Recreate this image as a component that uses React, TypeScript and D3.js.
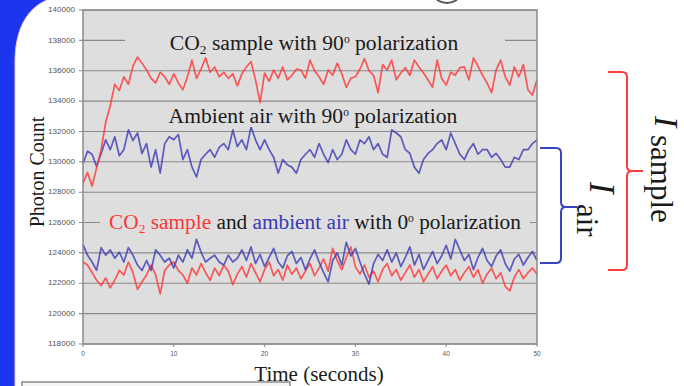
import React from "react";
import * as d3 from "d3";

// ---- data ----
const SAMPLE_STEP = 0.5; // seconds between readings
const xTicks = [0, 10, 20, 30, 40, 50];
const yTicks = [140000, 138000, 136000, 134000, 132000, 130000, 128000, 126000, 124000, 122000, 120000, 118000];

const co2Perp = [
  128600, 129300, 128400, 129600, 130800, 132600, 133700, 135100, 134700, 135600,
  135100, 136300, 136900, 136500, 136050, 135500, 135200, 135900, 135600, 135100,
  135800, 135200, 134750, 135600, 136700, 135500, 136100, 136850, 135900, 136250,
  135600, 135900, 135500, 135800, 135000, 135800, 136250, 136600, 135400, 133900,
  135850, 135300, 136050, 135500, 136250, 135400, 135700, 136100, 136050, 135500,
  136700, 136000, 135600, 135100, 136050, 135700, 136500, 135800, 134900, 135500,
  135600, 136100, 136800, 136000, 135700, 134550, 136400, 136050, 136700, 135400,
  135850, 136200, 135700, 136700, 136250, 135850, 135400, 134900, 136700, 135500,
  135050, 135900, 135700, 136200, 136250, 135400, 136850, 136300, 135700, 135200,
  134550, 136050, 136700, 135600, 135050, 136250, 135600, 136400, 134750, 134400,
  135400,
];

const airPerp = [
  129900, 130700, 130500, 129700, 130550, 131450, 130800, 131650, 130400, 130800,
  132100, 131400, 131900, 130550, 131200, 129650, 130800, 129250, 131200, 131650,
  131450, 131800, 130150, 130800, 129650, 129000, 130150, 130500, 130800, 130300,
  130950, 131200, 130800, 132100, 131000, 131450, 130800, 132300, 131450, 130800,
  131450, 130800, 130300, 129250, 130150, 129800, 129650, 129250, 130150, 130500,
  130800, 130300, 131200, 130500, 129950, 130800, 130150, 130500, 131450, 130800,
  130500, 131450, 131200, 131650, 130800, 131200, 130500, 130300, 132100, 131900,
  131650, 130800, 130550, 129650, 129250, 130150, 130550, 130800, 131200, 131450,
  130800, 131900, 131200, 130500, 130150, 130800, 131200, 130500, 130800, 130800,
  130300, 130550, 130150, 129650, 129650, 130300, 130150, 130800, 130800, 131200,
  131450,
];

const airPar = [
  124550, 123850, 123400, 122850, 124350, 123850, 124200, 123650, 124050, 123400,
  124350, 123850, 123200, 122850, 123500, 122850, 124200, 123850, 123400, 123650,
  123000, 123850, 123400, 124200, 123650, 124900, 124050, 123400, 123650, 123850,
  123400, 123200, 123850, 123400, 123650, 124200, 123500, 124400, 123300, 123900,
  123100, 123700, 124300, 123400, 123000, 123800, 124100, 123300, 123700, 122900,
  123600, 124200, 123400, 122700, 122100, 123500, 124000, 123200, 124700, 123800,
  124300, 123400, 122600, 121950, 123300, 123900, 123500, 124200, 123400, 124000,
  123100, 123700, 124400, 123200, 123900, 122900, 123500, 124100, 123300, 123800,
  124500, 123600, 124900, 124200, 123500, 123900, 122900, 123700, 124300, 123500,
  123100, 123800, 124200, 123300, 122800, 123600, 123900, 123200, 123700, 124100,
  123500,
];

const co2Par = [
  123400, 123200, 122700, 122200, 121850, 122350, 121700, 122200, 122850, 122550,
  123400, 122700, 121600, 122100, 122550, 123200, 122550, 121300, 122850, 123200,
  123400, 122850, 122550, 122000, 123000, 122550, 123300, 122700, 122200, 123000,
  122500, 123200, 122800, 121900, 122600, 123100, 122400, 123300, 122700, 122100,
  122900, 123400, 122500, 122900, 122200, 123200, 122600, 123000, 122300, 122800,
  123300, 122500, 123000, 123600, 122800, 124300, 123500, 122900, 123700, 124400,
  123100, 122600, 123200, 122400, 122800, 122100, 122900, 123300, 122500, 122900,
  122200, 122700, 123200, 122400, 122900, 122100, 122600, 123100, 122300, 122800,
  123200, 122500, 122900, 122200, 122700, 123100, 122400, 122900, 122000, 122600,
  123000, 122300, 122700, 121800, 121500, 122400, 122900, 122300, 122700, 123000,
  122600,
];

const RED = "#ff3535";
const BLUE = "#3a3ab4";
const PLOT_BG = "#dedede";
const SERIF = "'Liberation Serif', 'Times New Roman', serif";
const SANS = "'Liberation Sans', Arial, sans-serif";

export default function App() {
  const left = 83, right = 537, top = 10, bottom = 344;
  const x = d3.scaleLinear().domain([0, 50]).range([left, right]);
  const y = d3.scaleLinear().domain([118000, 140000]).range([bottom, top]);
  const line = d3
    .line<number>()
    .x((_, i) => x(i * SAMPLE_STEP))
    .y((d) => y(d));

  const series = [
    { data: co2Par, color: RED },
    { data: airPar, color: BLUE },
    { data: airPerp, color: BLUE },
    { data: co2Perp, color: RED },
  ];

  return (
    <svg
      width={684}
      height={386}
      style={{ position: "absolute", left: 0, top: 0, background: "#fff" }}
    >
      {/* slide frame on the left */}
      <path d="M0,0 H47 C28,8 15,28 15,62 V386 H0 Z" fill="#1c36f0" />
      <path d="M47,0 C28,8 15,28 15,62 V386" fill="none" stroke="#f3c9a0" strokeWidth={1} />
      <rect x={22} y={382} width={268} height={10} fill="#f4f4f4" stroke="#8a8a8a" strokeWidth={1.5} />
      <path d="M437,0 Q447,6 457,0" fill="none" stroke="#555" strokeWidth={2} />

      {/* plot area */}
      <rect x={left} y={top} width={right - left} height={bottom - top} fill={PLOT_BG} />
      {yTicks.map((t) => (
        <g key={t}>
          <line x1={left - 4} x2={right} y1={y(t)} y2={y(t)} stroke="#8a8a8a" strokeWidth={1.1} />
          <text
            x={left - 8}
            y={y(t) + 2.2}
            textAnchor="end"
            fontSize={6.5}
            textLength={27}
            lengthAdjust="spacingAndGlyphs"
            fontFamily={SANS}
            fill="#555"
          >
            {t}
          </text>
        </g>
      ))}
      {xTicks.map((t) => (
        <g key={t}>
          <line x1={x(t)} x2={x(t)} y1={bottom} y2={bottom + 3} stroke="#8a8a8a" />
          <text
            x={x(t)}
            y={bottom + 12}
            textAnchor="middle"
            fontSize={6.5}
            fontFamily={SANS}
            fill="#555"
          >
            {t}
          </text>
        </g>
      ))}

      {series.map((s, i) => (
        <path
          key={i}
          d={line(s.data) || ""}
          fill="none"
          stroke={s.color}
          strokeWidth={1.7}
          strokeOpacity={0.8}
          strokeLinejoin="round"
        />
      ))}
      <rect x={left} y={top} width={right - left} height={bottom - top} fill="none" stroke="#8a8a8a" strokeWidth={1.5} />

      {/* in-plot labels */}
      <rect x={125} y={33} width={380} height={20} fill={PLOT_BG} />
      <text x={314} y={50} textAnchor="middle" fontSize={21.6} fontFamily={SERIF} fill="#1a1a1a">
        CO<tspan fontSize={13.5} dy={4}>2</tspan>
        <tspan dy={-4}> sample with 90</tspan>
        <tspan fontSize={11.5} dy={-7}>o</tspan>
        <tspan dy={7}> polarization</tspan>
      </text>

      <rect x={158} y={106} width={310} height={21} fill={PLOT_BG} />
      <text x={313} y={123} textAnchor="middle" fontSize={21.6} fontFamily={SERIF} fill="#1a1a1a">
        Ambient air with 90<tspan fontSize={11.5} dy={-7}>o</tspan>
        <tspan dy={7}> polarization</tspan>
      </text>

      <rect x={100} y={212} width={430} height={22} fill={PLOT_BG} />
      <text x={315} y={229} textAnchor="middle" fontSize={21.3} fontFamily={SERIF} fill="#1a1a1a">
        <tspan fill={RED}>CO</tspan>
        <tspan fill={RED} fontSize={13.5} dy={4}>2</tspan>
        <tspan fill={RED} dy={-4}> sample</tspan>
        <tspan> and </tspan>
        <tspan fill={BLUE}>ambient air</tspan>
        <tspan> with 0</tspan>
        <tspan fontSize={11.5} dy={-7}>o</tspan>
        <tspan dy={7}> polarization</tspan>
      </text>

      {/* axis titles */}
      <text
        transform="translate(44,172) rotate(-90)"
        textAnchor="middle"
        fontSize={20}
        fontFamily={SERIF}
        fill="#1a1a1a"
      >
        Photon Count
      </text>
      <text x={319} y={381} textAnchor="middle" fontSize={21} fontFamily={SERIF} fill="#1a1a1a">
        Time (seconds)
      </text>

      {/* brackets */}
      <path
        d="M608,72 H622 Q627,72 627,77 V166 Q627,171 632,171 H643 M632,171 Q627,171 627,176 V265 Q627,270 622,270 H608"
        fill="none"
        stroke="#ff3b3b"
        strokeWidth={2}
      />
      <path
        d="M540,148 H556 Q561,148 561,153 V202 Q561,207 566,207 H577 M566,207 Q561,207 561,212 V258 Q561,263 556,263 H540"
        fill="none"
        stroke="#3a44c0"
        strokeWidth={2}
      />

      {/* bracket labels */}
      <text
        transform="translate(655,116) rotate(90)"
        fontSize={34}
        fontStyle="italic"
        fontFamily={SERIF}
        fill="#1a1a1a"
      >
        I
      </text>
      <text transform="translate(651,135) rotate(90)" fontSize={31} fontFamily={SERIF} fill="#1a1a1a">
        sample
      </text>
      <text
        transform="translate(590,182) rotate(90)"
        fontSize={35}
        fontStyle="italic"
        fontFamily={SERIF}
        fill="#1a1a1a"
      >
        I
      </text>
      <text transform="translate(577,204) rotate(90)" fontSize={31} fontFamily={SERIF} fill="#1a1a1a">
        air
      </text>
    </svg>
  );
}
